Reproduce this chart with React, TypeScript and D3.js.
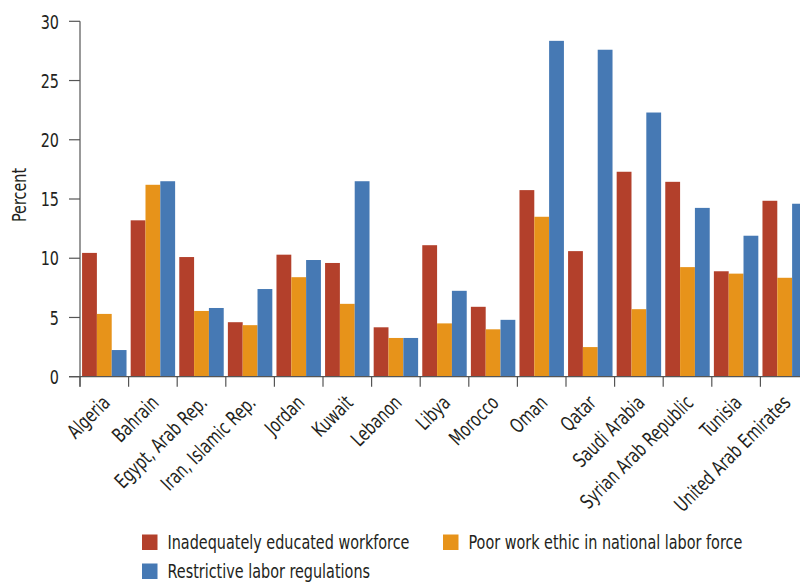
import React from "react";
import * as d3 from "d3";

const categories = [
  "Algeria", "Bahrain", "Egypt, Arab Rep.", "Iran, Islamic Rep.", "Jordan", "Kuwait",
  "Lebanon", "Libya", "Morocco", "Oman", "Qatar", "Saudi Arabia",
  "Syrian Arab Republic", "Tunisia", "United Arab Emirates",
];
const educated = [10.45, 13.2, 10.1, 4.6, 10.3, 9.6, 4.17, 11.1, 5.9, 15.75, 10.6, 17.3, 16.45, 8.9, 14.85];
const workEthic = [5.3, 16.2, 5.55, 4.35, 8.4, 6.15, 3.27, 4.5, 4.0, 13.5, 2.5, 5.7, 9.25, 8.7, 8.35];
const regulations = [2.25, 16.5, 5.8, 7.4, 9.85, 16.5, 3.27, 7.25, 4.8, 28.35, 27.6, 22.3, 14.25, 11.9, 14.6];
const seriesNames = [
  "Inadequately educated workforce",
  "Poor work ethic in national labor force",
  "Restrictive labor regulations",
];
const seriesColors = ["#B3402B", "#E7931A", "#4679B4"];
const yTicks = [0, 5, 10, 15, 20, 25, 30];

const FONT = "'DejaVu Sans Condensed', 'DejaVu Sans', sans-serif";
const textStyle: React.CSSProperties = { fontStretch: "condensed" };
const FS = 20;
const SX = 0.8;

export default function App() {
  const W = 800, H = 582;
  const left = 80, right = 809, top = 21.3, bottom = 376.7;
  const series = [educated, workEthic, regulations];

  const x = d3.scaleBand<string>().domain(categories).range([left, right]).paddingInner(0).paddingOuter(0);
  const inner = d3.scaleBand<number>().domain([0, 1, 2]).range([0, x.bandwidth()]).paddingOuter(0.14).paddingInner(0);
  const y = d3.scaleLinear().domain([0, 30]).range([bottom, top]);
  const axisColor = "#555";
  const txt = "#231f20";

  return (
    <svg width={W} height={H} style={{ position: "absolute", left: 0, top: 0, background: "#fff" }}>
      {categories.map((c, i) => (
        <g key={c} transform={`translate(${x(c)},0)`}>
          {series.map((s, k) => (
            <rect key={k} x={inner(k)} y={y(s[i])} width={inner.bandwidth()} height={y(0) - y(s[i])} fill={seriesColors[k]} />
          ))}
        </g>
      ))}
      <line x1={left} x2={left} y1={y(30)} y2={bottom + 10} stroke={axisColor} strokeWidth={1.2} />
      {yTicks.map((t) => (
        <g key={t}>
          <line x1={left - 11} x2={left} y1={y(t)} y2={y(t)} stroke={axisColor} strokeWidth={1.2} />
          <text transform={`translate(${left - 21},${y(t)}) scale(${SX},1)`} dy="0.36em" textAnchor="end"
            fontFamily={FONT} style={textStyle} fontSize={FS} fill={txt}>{t}</text>
        </g>
      ))}
      <line x1={left - 11} x2={W} y1={bottom} y2={bottom} stroke={axisColor} strokeWidth={1.2} />
      {categories.map((c) => (
        <line key={c} x1={x(c)!} x2={x(c)!} y1={bottom} y2={bottom + 10} stroke={axisColor} strokeWidth={1.2} />
      ))}
      {categories.map((c) => {
        const cx = x(c)! + x.bandwidth() / 2 + 7;
        return (
          <text key={c} transform={`translate(${cx},404) rotate(-45) scale(${SX},1)`} textAnchor="end"
            fontFamily={FONT} style={textStyle} fontSize={FS} fill={txt}>{c}</text>
        );
      })}
      <text transform={`translate(25.5,195) rotate(-90) scale(${SX},1)`} textAnchor="middle"
        fontFamily={FONT} style={textStyle} fontSize={FS} fill={txt}>Percent</text>
      {[
        { k: 0, x: 142, y: 549 },
        { k: 1, x: 443, y: 549 },
        { k: 2, x: 142, y: 578 },
      ].map(({ k, x: lx, y: ly }) => (
        <g key={k}>
          <rect x={lx} y={ly - 14.5} width={15.5} height={15.5} fill={seriesColors[k]} />
          <text transform={`translate(${lx + 25.5},${ly}) scale(${SX},1)`}
            fontFamily={FONT} style={textStyle} fontSize={FS} fill={txt}>{seriesNames[k]}</text>
        </g>
      ))}
    </svg>
  );
}
